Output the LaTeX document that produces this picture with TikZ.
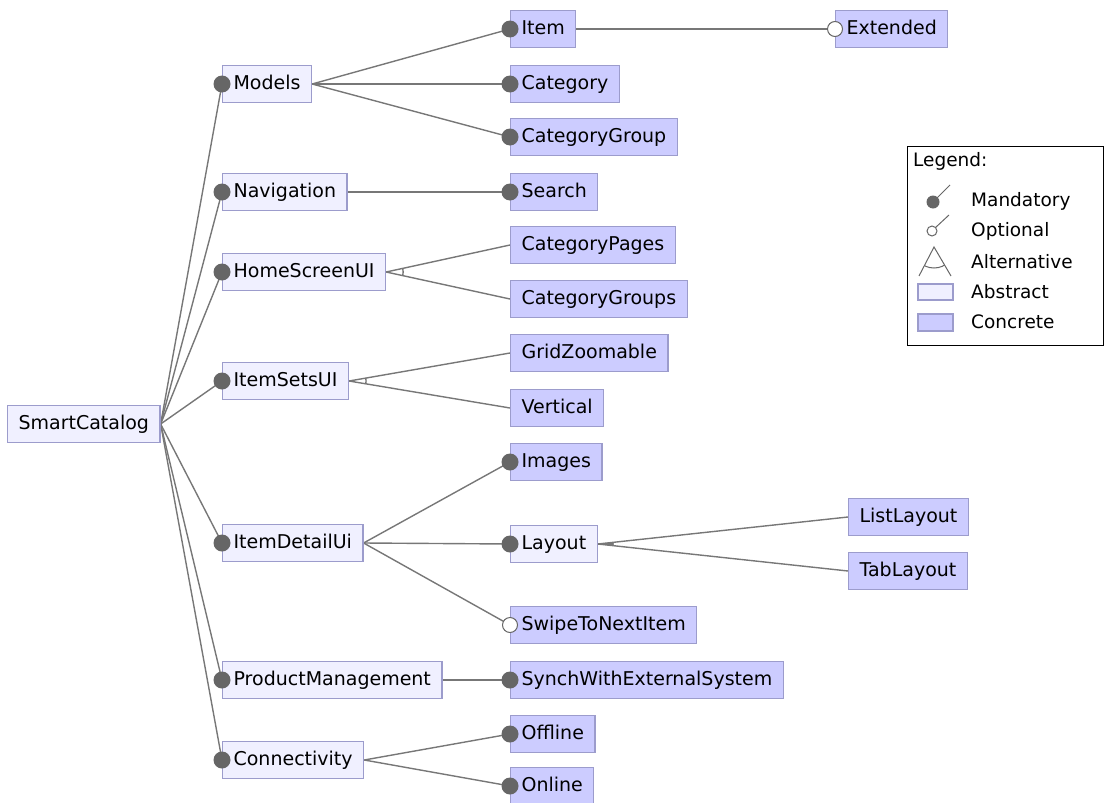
\documentclass[tikz,border=0pt]{standalone}
\usepackage{fontspec}
\setmainfont{DejaVu Sans}
\usetikzlibrary{positioning}
\definecolor{absfill}{HTML}{F0F0FF}
\definecolor{concfill}{HTML}{CCCCFF}
\definecolor{featline}{HTML}{9C9CCC}
\definecolor{edgegray}{HTML}{777777}
\definecolor{dotgray}{HTML}{666666}
\pgfdeclarelayer{bg}
\pgfsetlayers{bg,main}

\begin{document}
\begin{tikzpicture}[
    x=1pt, y=-1pt,
    every node/.style={font=\fontsize{19}{22}\selectfont, text=black},
    feat/.style={draw=featline, line width=1.2pt, minimum height=37pt,
      inner xsep=11pt, text height=14pt, text depth=4pt, anchor=west},
    abstr/.style={feat, fill=absfill},
    concr/.style={feat, fill=concfill},
    link/.style={draw=edgegray, line width=1.4pt},
    mand/.style={fill=dotgray},
    opt/.style={draw=dotgray, fill=white, line width=1pt},
    legtext/.style={anchor=west, inner sep=0pt, font=\fontsize{18.5}{22}\selectfont},
  ]

  \useasboundingbox (0,0) rectangle (1111,803);

  % === Root ===
  \node[abstr] (root) at (7,424) {SmartCatalog};

  % === First level ===
  \node[abstr] (models)   at (222,84)  {Models};
  \node[abstr] (navig)    at (222,192) {Navigation};
  \node[abstr] (home)     at (222,272) {HomeScreenUI};
  \node[abstr] (itemsets) at (222,381) {ItemSetsUI};
  \node[abstr] (detail)   at (222,543) {ItemDetailUi};
  \node[abstr] (product)  at (222,680) {ProductManagement};
  \node[abstr] (connect)  at (222,760) {Connectivity};

  % === Second level ===
  \node[concr] (item)      at (510,29)  {Item};
  \node[concr] (category)  at (510,84)  {Category};
  \node[concr] (catgroup)  at (510,137) {CategoryGroup};
  \node[concr] (search)    at (510,192) {Search};
  \node[concr] (catpages)  at (510,245) {CategoryPages};
  \node[concr] (catgroups) at (510,299) {CategoryGroups};
  \node[concr] (grid)      at (510,353) {GridZoomable};
  \node[concr] (vertical)  at (510,408) {Vertical};
  \node[concr] (images)    at (510,462) {Images};
  \node[abstr] (layout)    at (510,544) {Layout};
  \node[concr] (swipe)     at (510,625) {SwipeToNextItem};
  \node[concr] (synch)     at (510,680) {SynchWithExternalSystem};
  \node[concr] (offline)   at (510,734) {Offline};
  \node[concr] (online)    at (510,786) {Online};

  % === Third level ===
  \node[concr] (extended) at (835,29)  {Extended};
  \node[concr] (listlay)  at (848,517) {ListLayout};
  \node[concr] (tablay)   at (848,571) {TabLayout};

  % === Connectors (behind the boxes) ===
  \begin{pgfonlayer}{bg}
    \foreach \c in {models,navig,home,itemsets,detail,product,connect}
      \draw[link] (root.east) -- (\c.west);
    \foreach \c in {item,category,catgroup}
      \draw[link] (models.east) -- (\c.west);
    \draw[link] (item.east) -- (extended.west);
    \draw[link] (navig.east) -- (search.west);
    \draw[link] (home.east) -- (catpages.west);
    \draw[link] (home.east) -- (catgroups.west);
    \draw[link] (itemsets.east) -- (grid.west);
    \draw[link] (itemsets.east) -- (vertical.west);
    \foreach \c in {images,layout,swipe}
      \draw[link] (detail.east) -- (\c.west);
    \draw[link] (layout.east) -- (listlay.west);
    \draw[link] (layout.east) -- (tablay.west);
    \draw[link] (product.east) -- (synch.west);
    \draw[link] (connect.east) -- (offline.west);
    \draw[link] (connect.east) -- (online.west);

    % alternative groups
    \begin{scope}
      \clip (home.east) -- (catpages.west) -- (catgroups.west) -- cycle;
      \draw[edgegray, line width=1.4pt] (home.east) circle (17);
    \end{scope}
    \begin{scope}
      \clip (itemsets.east) -- (grid.west) -- (vertical.west) -- cycle;
      \draw[edgegray, line width=1.4pt] (itemsets.east) circle (17);
    \end{scope}
    % or group
    \begin{scope}
      \clip (layout.east) -- (listlay.west) -- (tablay.west) -- cycle;
      \fill[edgegray] (layout.east) circle (16);
    \end{scope}
  \end{pgfonlayer}

  % === Mandatory / optional markers ===
  \foreach \c in {models,navig,home,itemsets,detail,product,connect,
                  item,category,catgroup,search,images,layout,synch,offline,online}
    \fill[mand] (\c.west) circle (8.5);
  \foreach \c in {extended,swipe}
    \draw[opt] (\c.west) circle (7.5);

  % === Legend ===
  \node[draw=black, line width=1.2pt, minimum width=196pt, minimum height=199pt,
        inner sep=0pt, anchor=north west] (legend) at (907,146) {};
  \node[legtext] (leghead) at (913,161) {Legend:};

  \draw[dotgray, line width=1pt] (933,202) -- (950,185);
  \fill[dotgray] (933,202) circle (6.5);
  \node[legtext] (legmand) at (971,201) {Mandatory};

  \draw[dotgray, line width=1pt] (935,228) -- (949,215);
  \draw[opt] (932,231) circle (5);
  \node[legtext] (legopt) at (971,231) {Optional};

  \draw[dotgray, line width=1pt] (919,276) -- (934,247) -- (951,276);
  \begin{scope}
    \clip (919,276) -- (934,247) -- (951,276) -- cycle;
    \draw[dotgray, line width=1pt] (934,247) circle (21);
  \end{scope}
  \node[legtext] (legalt) at (971,262) {Alternative};

  \draw[featline, fill=absfill, line width=1.2pt] (918,284) rectangle (953,300);
  \node[legtext] (legabs) at (971,292) {Abstract};

  \draw[featline, fill=concfill, line width=1.2pt] (918,314) rectangle (953,331);
  \node[legtext] (legcon) at (971,322) {Concrete};

\end{tikzpicture}
\end{document}
